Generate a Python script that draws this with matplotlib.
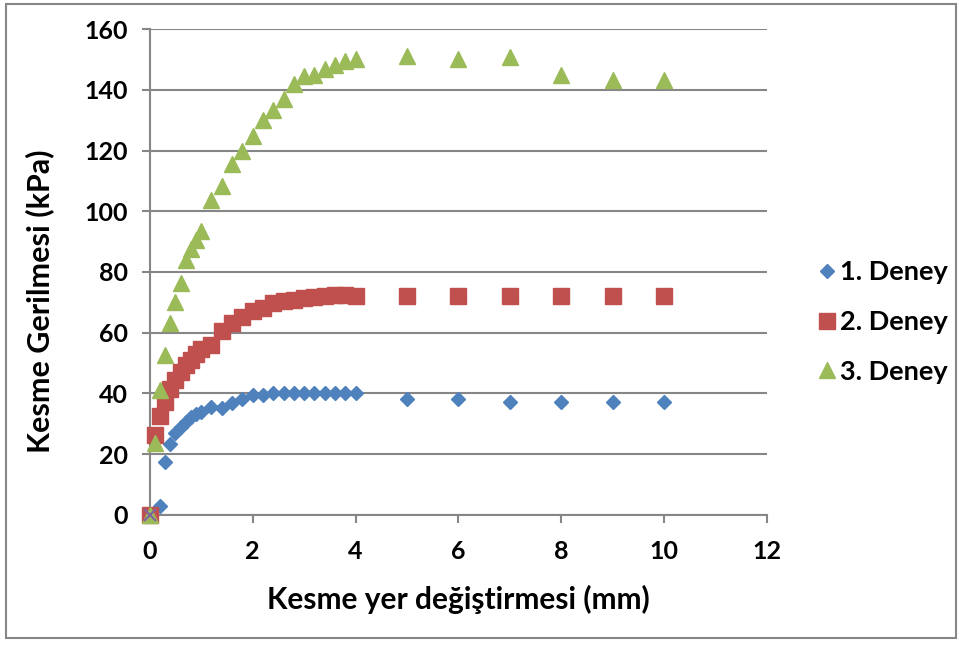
import matplotlib.pyplot as plt
from matplotlib.patches import Rectangle

# Yer değiştirme (mm) ve kesme gerilmesi (kPa) okumaları
x_deney1 = [0, 0.2, 0.3, 0.4, 0.5, 0.6, 0.7, 0.8, 0.9, 1.0, 1.2, 1.4, 1.6, 1.8, 2.0,
            2.2, 2.4, 2.6, 2.8, 3.0, 3.2, 3.4, 3.6, 3.8, 4.0, 5, 6, 7, 8, 9, 10]
y_deney1 = [0, 3, 17.5, 23.2, 26.8, 29.0, 30.6, 32.2, 33.3, 34.0, 35.5, 35.3, 36.8, 38.3, 39.4,
            39.4, 40.0, 40.0, 40.0, 40.0, 40.0, 40.0, 40.0, 40.0, 40.0, 38.1, 38.1, 37.3, 37.3, 37.3, 37.3]

x_deney2 = [0, 0.1, 0.2, 0.3, 0.4, 0.5, 0.6, 0.7, 0.8, 0.9, 1.0, 1.2, 1.4, 1.6, 1.8, 2.0,
            2.2, 2.4, 2.6, 2.8, 3.0, 3.2, 3.4, 3.6, 3.8, 4.0, 5, 6, 7, 8, 9, 10]
y_deney2 = [0, 26.4, 32.6, 37.3, 41.5, 44.5, 47.0, 49.2, 51.0, 53.0, 54.5, 56.0, 60.6, 63.2, 65.3, 67.0,
            68.2, 69.8, 70.3, 70.8, 71.3, 71.7, 72.1, 72.3, 72.3, 72.0, 72.0, 72.0, 72.0, 72.0, 72.0, 72.0]

x_deney3 = [0, 0.1, 0.2, 0.3, 0.4, 0.5, 0.6, 0.7, 0.8, 0.9, 1.0, 1.2, 1.4, 1.6, 1.8, 2.0,
            2.2, 2.4, 2.6, 2.8, 3.0, 3.2, 3.4, 3.6, 3.8, 4.0, 5, 6, 7, 8, 9, 10]
y_deney3 = [0, 23.7, 41.0, 52.8, 63.3, 70.2, 76.4, 84.0, 87.5, 90.5, 93.5, 103.6, 108.3, 115.5, 119.8, 124.8,
            129.9, 133.5, 137.0, 141.8, 144.6, 145.0, 147.0, 148.2, 149.5, 150.3, 151.0, 150.3, 150.8, 144.9, 143.3, 143.3]

x_deney4 = [0]
y_deney4 = [0]

plt.rcParams['font.family'] = ['Lato', 'DejaVu Sans']
plt.rcParams['font.weight'] = 'bold'

fig = plt.figure(figsize=(9.6, 6.46), dpi=100)
ax = fig.add_axes([0.156, 0.203, 0.643, 0.752])

ax.plot(x_deney1, y_deney1, 'D', color='#4F81BD', ms=7.2, mec='#4F81BD', label='1. Deney',
        zorder=3, clip_on=False)
ax.plot(x_deney2, y_deney2, 's', color='#C0504D', ms=12, mec='#C0504D', label='2. Deney',
        zorder=4, clip_on=False)
ax.plot(x_deney3, y_deney3, '^', color='#9BBB59', ms=12, mec='#9BBB59', label='3. Deney',
        zorder=5, clip_on=False)
ax.plot(x_deney4, y_deney4, 'x', color='#8064A2', ms=9, mew=1.5, zorder=6, clip_on=False)

ax.set_xlim(0, 12)
ax.set_ylim(0, 160)
ax.set_xticks(range(0, 13, 2))
ax.set_yticks(range(0, 161, 20))
ax.grid(axis='y', color='#868686', lw=1.5, zorder=1)
ax.set_axisbelow(True)

for s in ['top', 'right']:
    ax.spines[s].set_visible(False)
for s in ['left', 'bottom']:
    ax.spines[s].set_color('#868686')
    ax.spines[s].set_linewidth(1.5)
ax.tick_params(axis='both', direction='out', length=6, width=1.5, color='#868686',
               labelsize=18)
ax.tick_params(axis='y', pad=10)
ax.tick_params(axis='x', pad=12)
for lbl in ax.get_xticklabels() + ax.get_yticklabels():
    lbl.set_fontweight('bold')

ax.set_xlabel('Kesme yer değiştirmesi (mm)', fontsize=21.5, fontweight='bold', labelpad=16)
ax.set_ylabel('Kesme Gerilmesi (kPa)', fontsize=22, fontweight='bold')
ax.yaxis.set_label_coords(-0.155, 0.44)

leg = ax.legend(loc='center left', bbox_to_anchor=(1.035, 0.397), frameon=False,
                handletextpad=0.0, labelspacing=0.95, handlelength=1.0,
                prop={'weight': 'bold', 'size': 19.5})

# çerçeve
fig.patches.append(Rectangle((0.006, 0.012), 0.99, 0.982, transform=fig.transFigure,
                             fill=False, edgecolor='#868686', lw=1.5))

fig.savefig('out.png', dpi=100)
